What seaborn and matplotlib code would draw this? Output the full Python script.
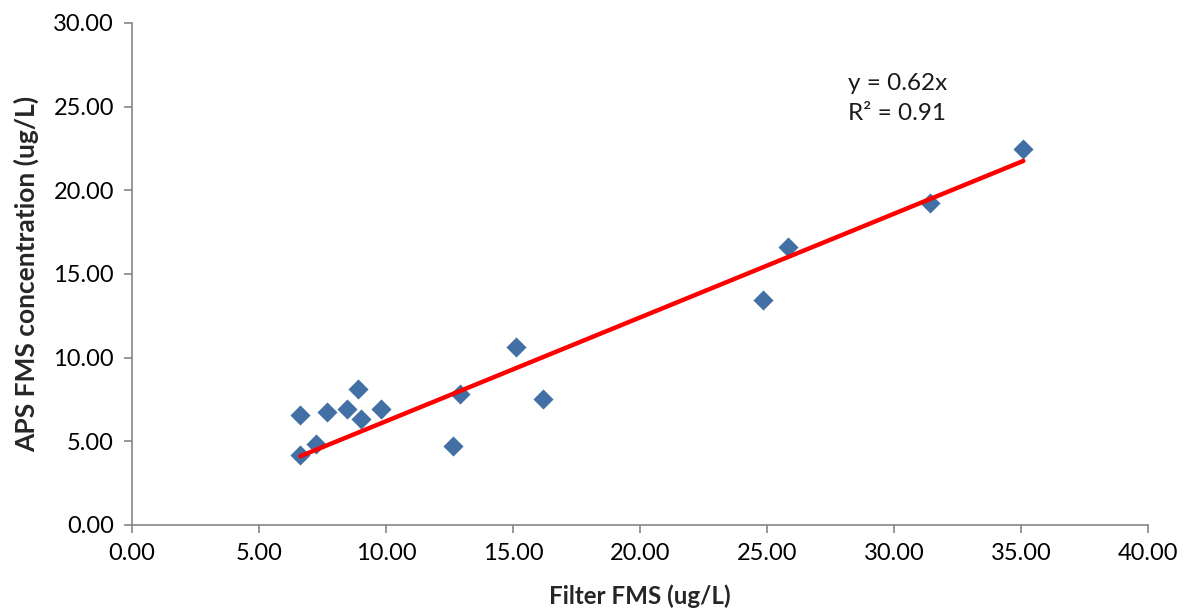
import numpy as np
import pandas as pd
import matplotlib
matplotlib.use("Agg")
import matplotlib.pyplot as plt
import seaborn as sns

filter_fms = [6.63, 6.63, 7.24, 7.67, 8.45, 8.91, 9.02, 9.82, 12.65, 12.92,
              15.12, 16.17, 24.83, 25.84, 31.42, 35.09]
aps_fms = [4.17, 6.55, 4.82, 6.78, 6.92, 8.14, 6.31, 6.92, 4.73, 7.84,
           10.64, 7.53, 13.45, 16.64, 19.23, 22.46]
slope = 0.62
eq_lines = ["y = 0.62x", "R² = 0.91"]
x_ticks = [0, 5, 10, 15, 20, 25, 30, 35, 40]
y_ticks = [0, 5, 10, 15, 20, 25, 30]

sns.set_theme(style="white")
plt.rcParams['font.family'] = ['Lato', 'DejaVu Sans']

df = pd.DataFrame({"x": filter_fms, "y": aps_fms})

fig = plt.figure(figsize=(11.86, 6.11), dpi=100)
ax = fig.add_axes([0.1113, 0.1408, 0.8567, 0.8216])

sns.scatterplot(data=df, x="x", y="y", marker="D", s=105, color="#4270A5",
                linewidth=0, ax=ax, zorder=2)

xl = np.array([min(filter_fms), max(filter_fms)])
ax.plot(xl, slope * xl, color="#FF0000", linewidth=3.2, solid_capstyle="round", zorder=3)

ax.text(28.2, 26.4, eq_lines[0], fontsize=17.5, ha="left", va="center", color="#1a1a1a")
ax.text(28.2, 24.6, eq_lines[1], fontsize=17.5, ha="left", va="center", color="#1a1a1a")

ax.set_xlim(0, 40)
ax.set_ylim(0, 30)
ax.set_xticks(x_ticks)
ax.set_yticks(y_ticks)
ax.set_xticklabels([f"{v:.2f}" for v in x_ticks], fontsize=17)
ax.set_yticklabels([f"{v:.2f}" for v in y_ticks], fontsize=17)
ax.set_xlabel("Filter FMS (ug/L)", fontsize=17.4, fontweight="bold", labelpad=15)
ax.set_ylabel("APS FMS concentration (ug/L)", fontsize=19, fontweight="bold", labelpad=10)

for s in ["top", "right"]:
    ax.spines[s].set_visible(False)
for s in ["left", "bottom"]:
    ax.spines[s].set_color("#868686")
    ax.spines[s].set_linewidth(1.2)
ax.tick_params(axis="both", direction="out", length=6, width=1.2, color="#868686",
               labelcolor="black", pad=7)
ax.tick_params(axis="x", bottom=True)
ax.tick_params(axis="y", left=True)
ax.grid(False)

fig.savefig("out.png", dpi=100)
